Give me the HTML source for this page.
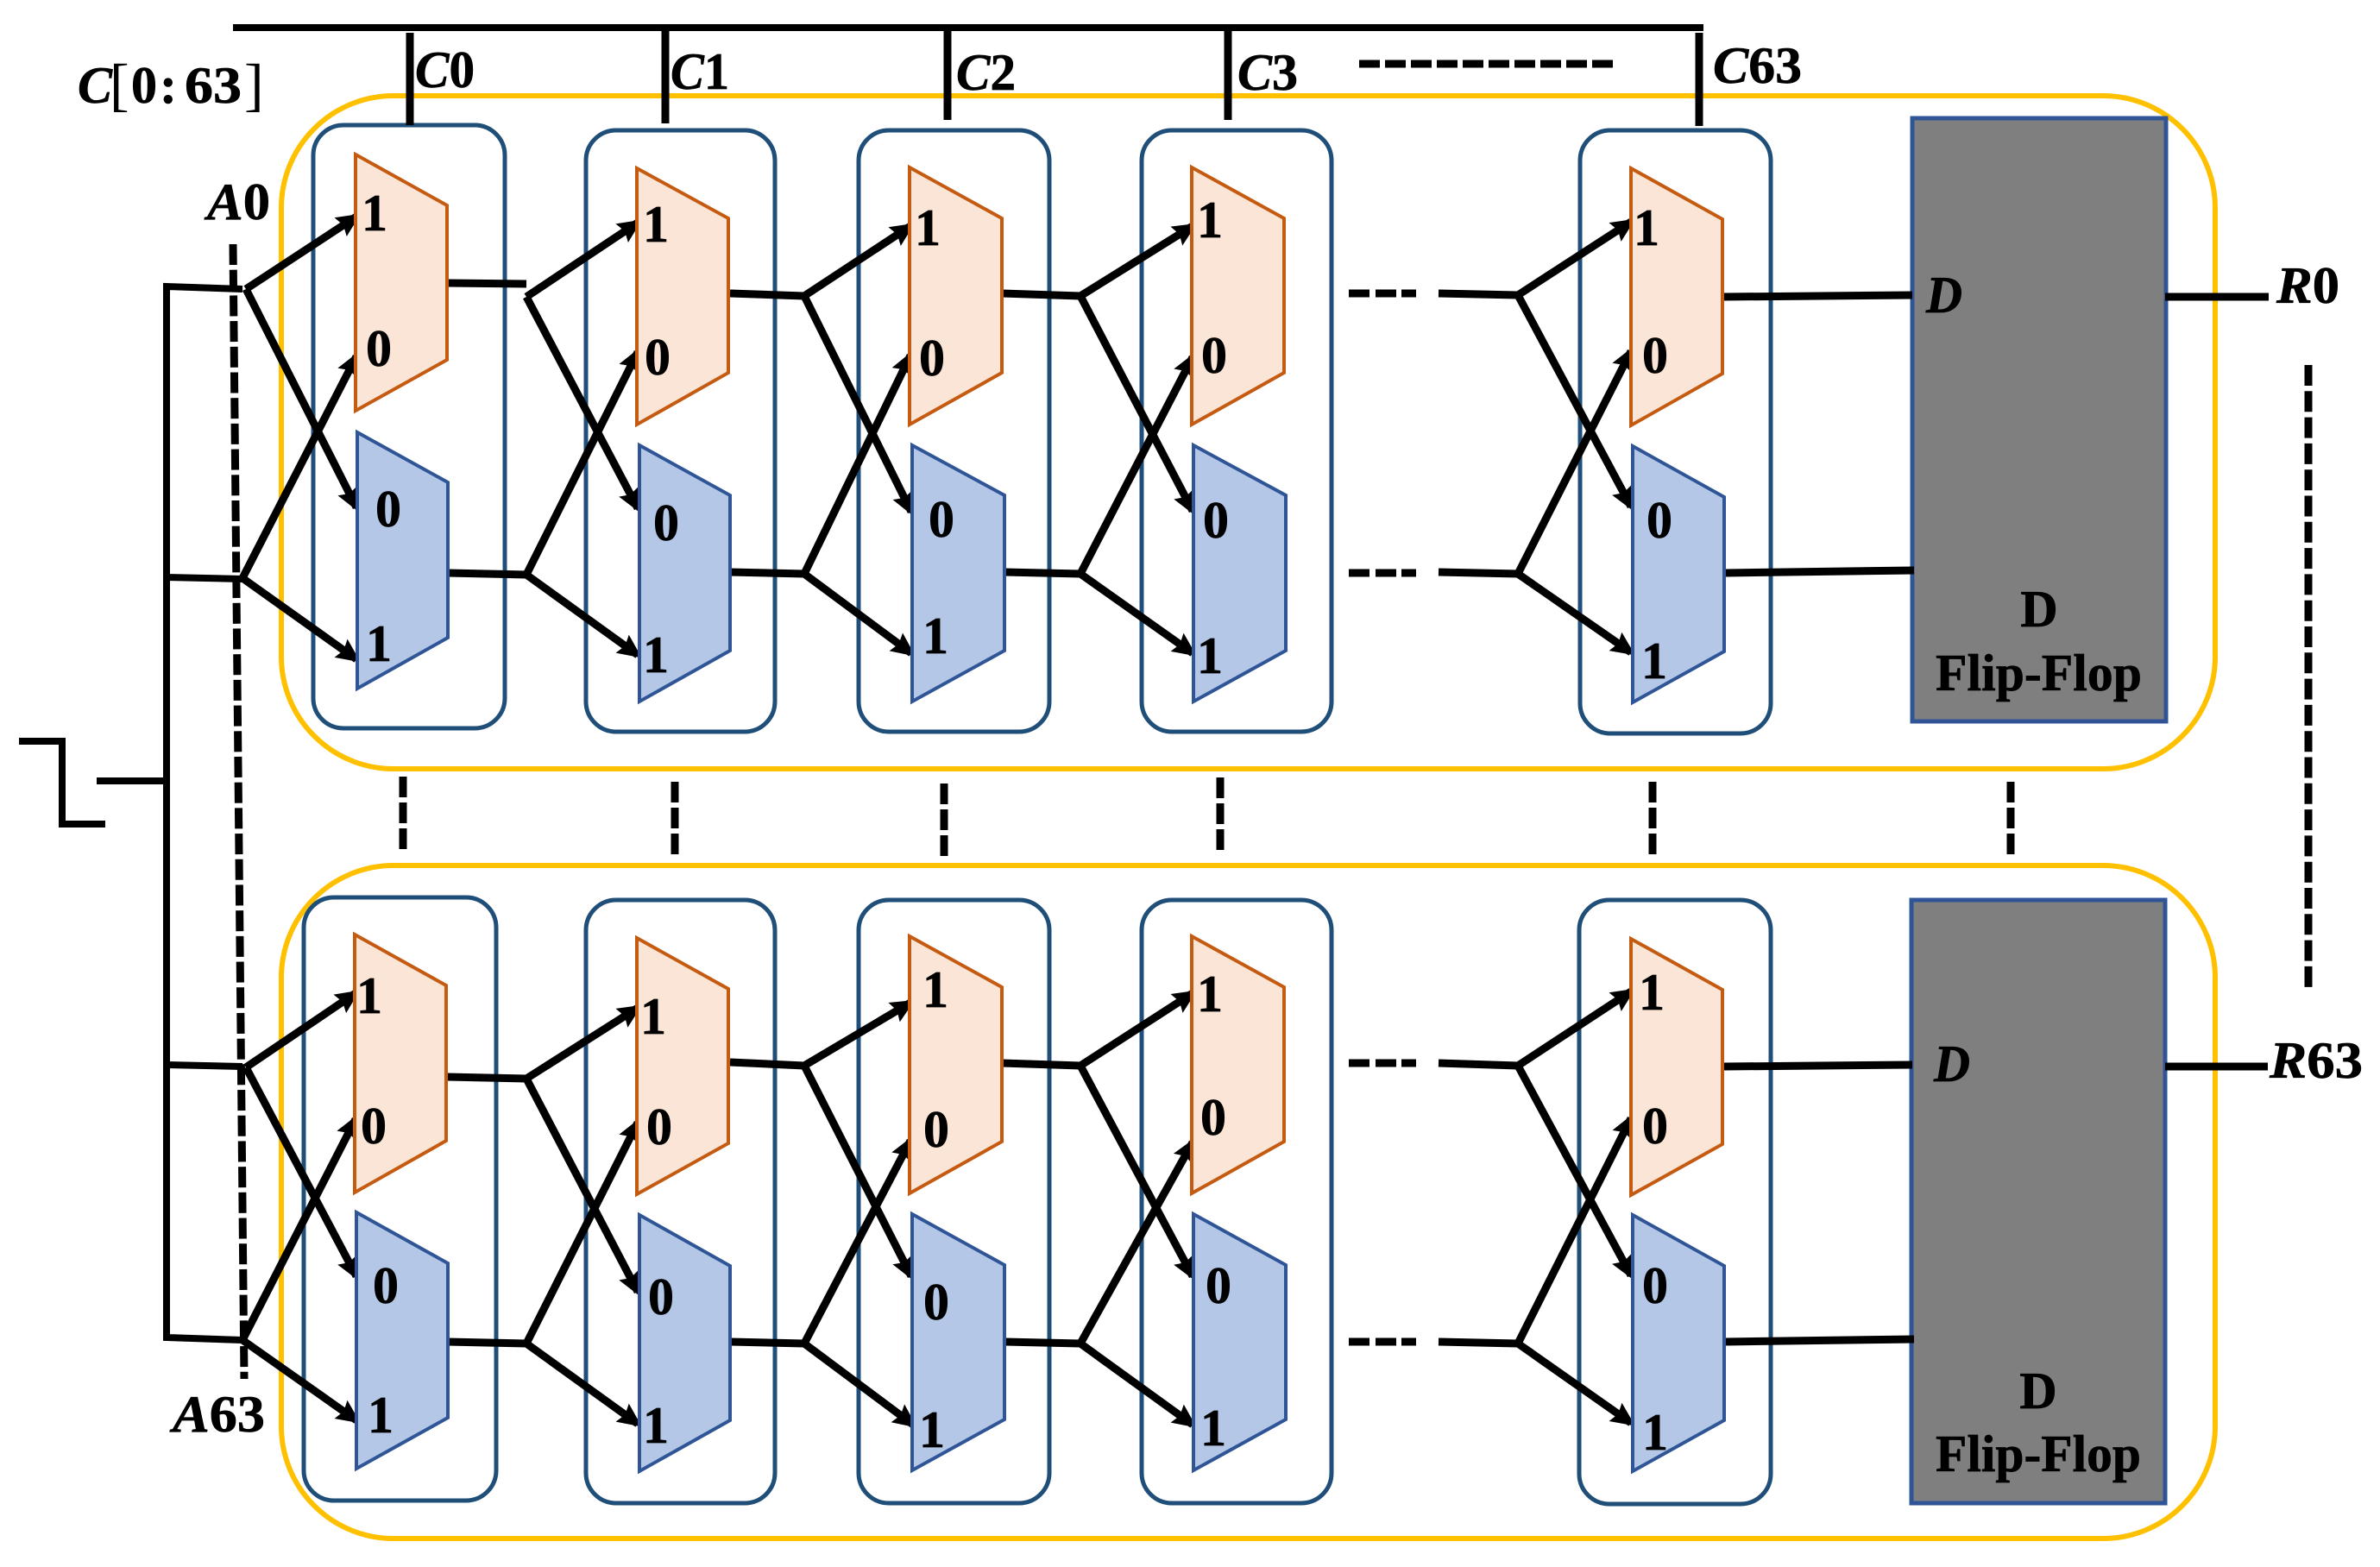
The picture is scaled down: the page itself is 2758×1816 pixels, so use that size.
<!DOCTYPE html>
<html>
<head>
<meta charset="utf-8">
<title>Diagram</title>
<style>
html,body{margin:0;padding:0;background:#fff;width:2758px;height:1816px;overflow:hidden}
svg{display:block}
text{font-family:"Liberation Serif",serif;font-weight:bold;fill:#000;stroke:#000;stroke-width:.7px;font-size:60px}
.d{text-anchor:middle}
.i{font-style:italic}
.br{font-weight:normal;font-size:68px;stroke:none}
.frame{fill:none;stroke:#FFC000;stroke-width:6}
.box{fill:none;stroke:#1F4E79;stroke-width:5}
.o{fill:#FBE5D6;stroke:#C55A11;stroke-width:4}
.b{fill:#B4C7E7;stroke:#2F5597;stroke-width:4}
.ff{fill:#7F7F7F;stroke:#2F5597;stroke-width:5}
.w{stroke:#000;stroke-width:9;fill:none}
.a{stroke:#000;stroke-width:9;fill:none;marker-end:url(#ah)}
.t{stroke:#000;stroke-width:8;fill:none}
.s{stroke:#000;stroke-width:9;fill:none}
.dv{stroke:#000;stroke-width:9;fill:none;stroke-dasharray:24 6}
.dr{stroke:#000;stroke-width:9;fill:none;stroke-dasharray:24 7 24 6 17 100}
</style>
</head>
<body>
<svg xmlns="http://www.w3.org/2000/svg" width="2758" height="1816" viewBox="0 0 2758 1816">
<defs>
<marker id="ah" markerUnits="userSpaceOnUse" markerWidth="34" markerHeight="30" refX="22" refY="15" orient="auto">
<path d="M0 2 L28 15 L0 28 L4 15 z" fill="#000"/>
</marker>
</defs>

<!-- frames -->
<rect class="frame" x="326" y="111" width="2241" height="780" rx="130" ry="130"/>
<rect class="frame" x="326" y="1003" width="2241" height="780" rx="130" ry="130"/>

<!-- rounded boxes row 1 -->
<rect class="box" x="363" y="145" width="222" height="699" rx="35"/>
<rect class="box" x="679" y="151" width="219" height="697" rx="35"/>
<rect class="box" x="995" y="151" width="221" height="697" rx="35"/>
<rect class="box" x="1323" y="151" width="220" height="697" rx="35"/>
<rect class="box" x="1831" y="151" width="221" height="699" rx="35"/>
<!-- rounded boxes row 2 -->
<rect class="box" x="352" y="1040" width="223" height="699" rx="35"/>
<rect class="box" x="679" y="1043" width="219" height="699" rx="35"/>
<rect class="box" x="995" y="1043" width="221" height="699" rx="35"/>
<rect class="box" x="1323" y="1043" width="220" height="699" rx="35"/>
<rect class="box" x="1830" y="1043" width="222" height="700" rx="35"/>

<!-- flip flops -->
<rect class="ff" x="2216" y="137" width="294" height="699"/>
<rect class="ff" x="2215" y="1043" width="294" height="699"/>

<!-- A dashed line -->
<line class="dv" style="stroke-dasharray:24 5.7" x1="270" y1="283" x2="283" y2="1598"/>

<!-- left bus & clock -->
<polyline class="t" points="22,859 72,859 72,955 122,955"/>
<line class="t" x1="112" y1="905" x2="193" y2="905"/>
<polyline class="t" points="281,335 193,332 193,1550 281,1553"/>
<line class="t" x1="193" y1="669" x2="281" y2="671"/>
<line class="t" x1="193" y1="1234" x2="281" y2="1236"/>

<!-- top bus -->
<line class="t" x1="270" y1="32" x2="1974" y2="32"/>
<line class="s" x1="475" y1="38" x2="475" y2="145"/>
<line class="s" x1="771" y1="32" x2="771" y2="143"/>
<line class="s" x1="1098" y1="32" x2="1098" y2="139"/>
<line class="s" x1="1423" y1="32" x2="1423" y2="139"/>
<line class="s" x1="1969" y1="38" x2="1969" y2="146"/>
<line class="dv" x1="1575" y1="74" x2="1872" y2="74"/>

<!-- row 1 wires -->
<line class="a" x1="285" y1="335" x2="413" y2="251"/>
<line class="a" x1="285" y1="335" x2="413" y2="588"/>
<line class="a" x1="281" y1="670" x2="413" y2="413"/>
<line class="a" x1="281" y1="670" x2="413" y2="764"/>
<line class="w" x1="519" y1="328" x2="610" y2="329"/>
<line class="w" x1="519" y1="664" x2="610" y2="666"/>
<line class="a" x1="610" y1="344" x2="739" y2="258"/>
<line class="a" x1="610" y1="344" x2="739" y2="589"/>
<line class="a" x1="610" y1="666" x2="739" y2="408"/>
<line class="a" x1="610" y1="666" x2="739" y2="759"/>
<line class="w" x1="846" y1="340" x2="932" y2="343"/>
<line class="w" x1="846" y1="663" x2="932" y2="665"/>
<line class="a" x1="932" y1="343" x2="1055" y2="262"/>
<line class="a" x1="932" y1="343" x2="1056" y2="593"/>
<line class="a" x1="932" y1="665" x2="1055" y2="412"/>
<line class="a" x1="932" y1="665" x2="1056" y2="757"/>
<line class="w" x1="1161" y1="340" x2="1252" y2="343"/>
<line class="w" x1="1164" y1="663" x2="1252" y2="665"/>
<line class="a" x1="1252" y1="343" x2="1382" y2="262"/>
<line class="a" x1="1252" y1="343" x2="1382" y2="592"/>
<line class="a" x1="1252" y1="665" x2="1382" y2="414"/>
<line class="a" x1="1252" y1="665" x2="1382" y2="757"/>
<line class="dr" x1="1563" y1="340" x2="1642" y2="340"/>
<line class="dr" x1="1563" y1="664" x2="1642" y2="664"/>
<line class="w" x1="1667" y1="340" x2="1759" y2="342"/>
<line class="w" x1="1667" y1="663" x2="1759" y2="665"/>
<line class="a" x1="1759" y1="342" x2="1890" y2="257"/>
<line class="a" x1="1759" y1="342" x2="1890" y2="587"/>
<line class="a" x1="1759" y1="665" x2="1890" y2="407"/>
<line class="a" x1="1759" y1="665" x2="1890" y2="756"/>
<line class="s" x1="1998" y1="344" x2="2216" y2="342"/>
<line class="s" x1="2000" y1="664" x2="2218" y2="661"/>
<line class="s" x1="2509" y1="344" x2="2629" y2="344"/>

<!-- row 2 wires -->
<line class="a" x1="285" y1="1237" x2="412" y2="1151"/>
<line class="a" x1="285" y1="1237" x2="413" y2="1479"/>
<line class="a" x1="281" y1="1553" x2="412" y2="1297"/>
<line class="a" x1="281" y1="1553" x2="413" y2="1646"/>
<line class="w" x1="518" y1="1248" x2="610" y2="1250"/>
<line class="w" x1="518" y1="1555" x2="610" y2="1557"/>
<line class="a" x1="610" y1="1250" x2="739" y2="1168"/>
<line class="a" x1="610" y1="1250" x2="739" y2="1497"/>
<line class="a" x1="610" y1="1557" x2="739" y2="1301"/>
<line class="a" x1="610" y1="1557" x2="739" y2="1650"/>
<line class="w" x1="846" y1="1231" x2="932" y2="1235"/>
<line class="w" x1="846" y1="1555" x2="932" y2="1557"/>
<line class="a" x1="932" y1="1235" x2="1055" y2="1162"/>
<line class="a" x1="932" y1="1235" x2="1056" y2="1479"/>
<line class="a" x1="932" y1="1557" x2="1055" y2="1322"/>
<line class="a" x1="932" y1="1557" x2="1058" y2="1651"/>
<line class="w" x1="1161" y1="1232" x2="1252" y2="1235"/>
<line class="w" x1="1164" y1="1555" x2="1252" y2="1557"/>
<line class="a" x1="1252" y1="1235" x2="1382" y2="1151"/>
<line class="a" x1="1252" y1="1235" x2="1382" y2="1479"/>
<line class="a" x1="1252" y1="1557" x2="1382" y2="1324"/>
<line class="a" x1="1252" y1="1557" x2="1382" y2="1651"/>
<line class="dr" x1="1563" y1="1232" x2="1642" y2="1232"/>
<line class="dr" x1="1563" y1="1555" x2="1642" y2="1555"/>
<line class="w" x1="1667" y1="1232" x2="1759" y2="1235"/>
<line class="w" x1="1667" y1="1555" x2="1759" y2="1557"/>
<line class="a" x1="1759" y1="1235" x2="1890" y2="1149"/>
<line class="a" x1="1759" y1="1235" x2="1890" y2="1478"/>
<line class="a" x1="1759" y1="1557" x2="1890" y2="1296"/>
<line class="a" x1="1759" y1="1557" x2="1890" y2="1649"/>
<line class="s" x1="1998" y1="1236" x2="2216" y2="1234"/>
<line class="s" x1="2000" y1="1555" x2="2218" y2="1552"/>
<line class="s" x1="2509" y1="1236" x2="2628" y2="1236"/>

<!-- trapezoids row 1 -->
<polygon class="o" points="412,179 518,238 518,417 412,476"/>
<polygon class="b" points="414,501 519,559 519,739 414,798"/>
<polygon class="o" points="738,195 844,253 844,432 738,492"/>
<polygon class="b" points="741,516 846,574 846,754 741,813"/>
<polygon class="o" points="1054,194 1161,253 1161,432 1054,492"/>
<polygon class="b" points="1057,516 1164,574 1164,754 1057,813"/>
<polygon class="o" points="1381,194 1488,253 1488,432 1381,492"/>
<polygon class="b" points="1383,516 1490,574 1490,754 1383,813"/>
<polygon class="o" points="1890,195 1996,254 1996,433 1890,493"/>
<polygon class="b" points="1892,517 1998,576 1998,755 1892,814"/>
<!-- trapezoids row 2 -->
<polygon class="o" points="411,1083 517,1142 517,1322 411,1382"/>
<polygon class="b" points="413,1405 519,1464 519,1643 413,1702"/>
<polygon class="o" points="738,1087 844,1146 844,1325 738,1384"/>
<polygon class="b" points="741,1408 846,1467 846,1646 741,1705"/>
<polygon class="o" points="1054,1085 1161,1144 1161,1323 1054,1383"/>
<polygon class="b" points="1057,1407 1164,1466 1164,1645 1057,1704"/>
<polygon class="o" points="1381,1085 1488,1144 1488,1323 1381,1383"/>
<polygon class="b" points="1383,1407 1490,1466 1490,1645 1383,1704"/>
<polygon class="o" points="1890,1088 1996,1147 1996,1326 1890,1385"/>
<polygon class="b" points="1892,1408 1998,1467 1998,1646 1892,1705"/>

<!-- between-row dashes -->
<line class="dv" x1="467" y1="900" x2="467" y2="985"/>
<line class="dv" x1="782" y1="906" x2="782" y2="990"/>
<line class="dv" x1="1094" y1="908" x2="1094" y2="992"/>
<line class="dv" x1="1414" y1="901" x2="1414" y2="985"/>
<line class="dv" x1="1915" y1="906" x2="1915" y2="990"/>
<line class="dv" x1="2330" y1="906" x2="2330" y2="990"/>
<line class="dv" style="stroke-dasharray:24 6.3" x1="2675" y1="423" x2="2675" y2="1144"/>

<!-- digits row 1 -->
<text class="d" x="434" y="267">1</text><text class="d" x="439" y="424">0</text>
<text class="d" x="450" y="610">0</text><text class="d" x="439" y="766">1</text>
<text class="d" x="760" y="280">1</text><text class="d" x="762" y="434">0</text>
<text class="d" x="772" y="626">0</text><text class="d" x="760" y="779">1</text>
<text class="d" x="1075" y="284">1</text><text class="d" x="1080" y="435">0</text>
<text class="d" x="1091" y="622">0</text><text class="d" x="1084" y="757">1</text>
<text class="d" x="1402" y="275">1</text><text class="d" x="1407" y="432">0</text>
<text class="d" x="1409" y="623">0</text><text class="d" x="1402" y="780">1</text>
<text class="d" x="1908" y="284">1</text><text class="d" x="1918" y="432">0</text>
<text class="d" x="1923" y="623">0</text><text class="d" x="1917" y="786">1</text>
<!-- digits row 2 -->
<text class="d" x="428" y="1174">1</text><text class="d" x="433" y="1325">0</text>
<text class="d" x="447" y="1510">0</text><text class="d" x="441" y="1660">1</text>
<text class="d" x="757" y="1198">1</text><text class="d" x="764" y="1326">0</text>
<text class="d" x="766" y="1523">0</text><text class="d" x="760" y="1672">1</text>
<text class="d" x="1084" y="1167">1</text><text class="d" x="1085" y="1329">0</text>
<text class="d" x="1085" y="1529">0</text><text class="d" x="1080" y="1677">1</text>
<text class="d" x="1402" y="1172">1</text><text class="d" x="1406" y="1315">0</text>
<text class="d" x="1412" y="1510">0</text><text class="d" x="1406" y="1675">1</text>
<text class="d" x="1914" y="1170">1</text><text class="d" x="1918" y="1325">0</text>
<text class="d" x="1918" y="1510">0</text><text class="d" x="1918" y="1680">1</text>

<!-- labels -->
<text class="i" x="90" y="119">C</text>
<text class="br" x="127" y="121">[</text>
<text x="152" y="119">0</text>
<text x="185" y="119">:</text>
<text x="214" y="119" textLength="66" lengthAdjust="spacingAndGlyphs">63</text>
<text class="br" x="283" y="121">]</text>
<text x="481" y="101" textLength="69" lengthAdjust="spacingAndGlyphs"><tspan class="i">C</tspan>0</text>
<text x="777" y="103" textLength="68" lengthAdjust="spacingAndGlyphs"><tspan class="i">C</tspan>1</text>
<text x="1108" y="104" textLength="69" lengthAdjust="spacingAndGlyphs"><tspan class="i">C</tspan>2</text>
<text x="1434" y="104" textLength="70" lengthAdjust="spacingAndGlyphs"><tspan class="i">C</tspan>3</text>
<text x="1985" y="96" textLength="103" lengthAdjust="spacingAndGlyphs"><tspan class="i">C</tspan>63</text>
<text x="240" y="254" textLength="73" lengthAdjust="spacingAndGlyphs"><tspan class="i">A</tspan>0</text>
<text x="200" y="1659" textLength="107" lengthAdjust="spacingAndGlyphs"><tspan class="i">A</tspan>63</text>
<text x="2638" y="351" textLength="73" lengthAdjust="spacingAndGlyphs"><tspan class="i">R</tspan>0</text>
<text x="2630" y="1249" textLength="108" lengthAdjust="spacingAndGlyphs"><tspan class="i">R</tspan>63</text>
<text class="i" x="2232" y="362" textLength="42" lengthAdjust="spacingAndGlyphs">D</text>
<text class="i" x="2241" y="1253" textLength="42" lengthAdjust="spacingAndGlyphs">D</text>

<text class="d" x="2363" y="726">D</text>
<text x="2243" y="800" textLength="239" lengthAdjust="spacingAndGlyphs">Flip-Flop</text>
<text class="d" x="2362" y="1632">D</text>
<text x="2243" y="1705" textLength="238" lengthAdjust="spacingAndGlyphs">Flip-Flop</text>
</svg>
</body>
</html>
